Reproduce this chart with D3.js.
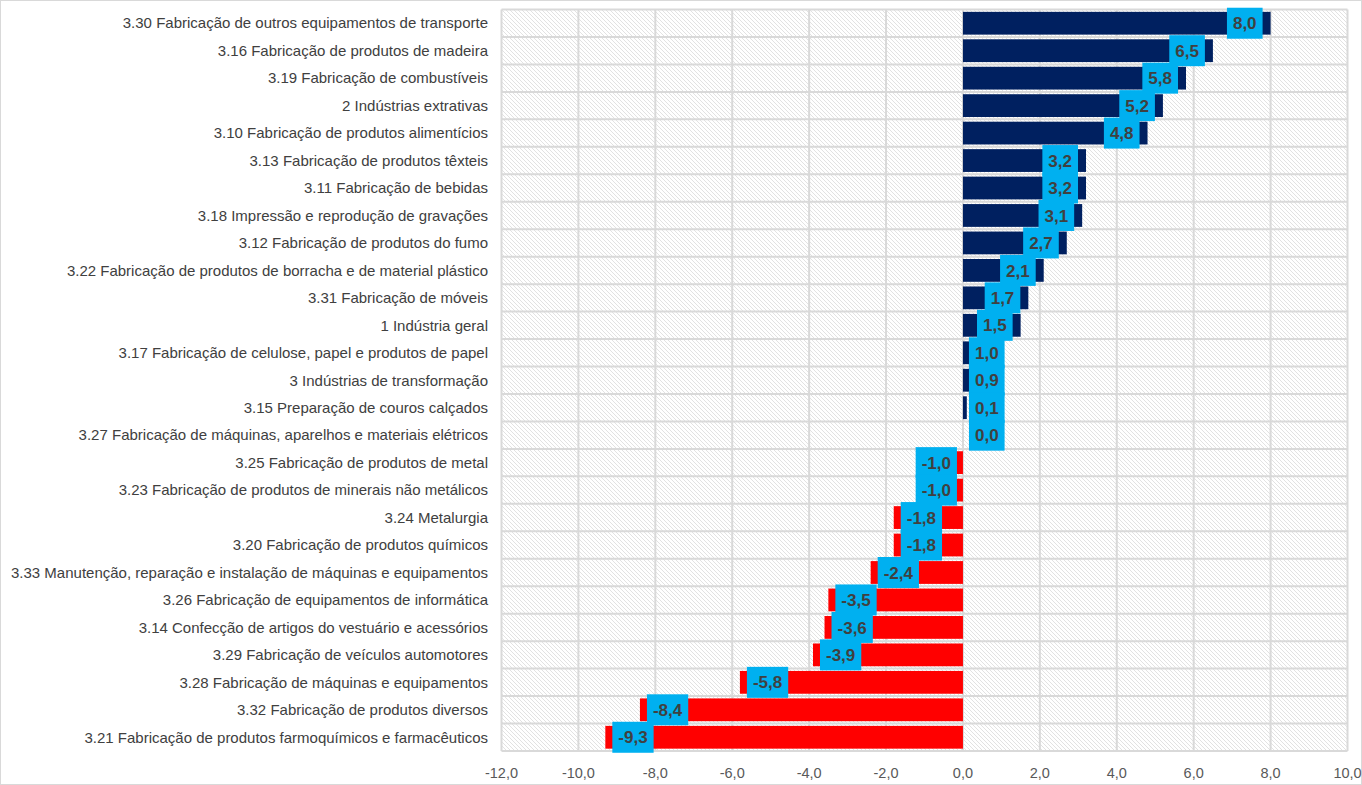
<!DOCTYPE html>
<html><head><meta charset="utf-8">
<script src="https://cdn.jsdelivr.net/npm/d3@7/dist/d3.min.js"></script>
<style>body{margin:0;background:#fff;} svg{display:block;}</style>
</head><body>
<svg id="c" width="1362" height="785"></svg>
<script>
const categories = [
"3.30 Fabricação de outros equipamentos de transporte",
"3.16 Fabricação de produtos de madeira",
"3.19 Fabricação de combustíveis",
"2 Indústrias extrativas",
"3.10 Fabricação de produtos alimentícios",
"3.13 Fabricação de produtos têxteis",
"3.11 Fabricação de bebidas",
"3.18 Impressão e reprodução de gravações",
"3.12 Fabricação de produtos do fumo",
"3.22 Fabricação de produtos de borracha e de material plástico",
"3.31 Fabricação de móveis",
"1 Indústria geral",
"3.17 Fabricação de celulose, papel e produtos de papel",
"3 Indústrias de transformação",
"3.15 Preparação de couros calçados",
"3.27 Fabricação de máquinas, aparelhos e materiais elétricos",
"3.25 Fabricação de produtos de metal",
"3.23 Fabricação de produtos de minerais não metálicos",
"3.24 Metalurgia",
"3.20 Fabricação de produtos químicos",
"3.33 Manutenção, reparação e instalação de máquinas e equipamentos",
"3.26 Fabricação de equipamentos de informática",
"3.14 Confecção de artigos do vestuário e acessórios",
"3.29 Fabricação de veículos automotores",
"3.28 Fabricação de máquinas e equipamentos",
"3.32 Fabricação de produtos diversos",
"3.21 Fabricação de produtos farmoquímicos e farmacêuticos"
];
const values = [8.0,6.5,5.8,5.2,4.8,3.2,3.2,3.1,2.7,2.1,1.7,1.5,1.0,0.9,0.1,0.0,-1.0,-1.0,-1.8,-1.8,-2.4,-3.5,-3.6,-3.9,-5.8,-8.4,-9.3];
const xTicks = [-12,-10,-8,-6,-4,-2,0,2,4,6,8,10];

const svg = d3.select("#c");
const W = 1362, H = 785;
const L = 501.5, R = 1347.5, T = 9.5, B = 751;
const x = d3.scaleLinear().domain([-12,10]).range([L,R]);
const y = d3.scaleBand().domain(categories).range([T,B]).paddingInner(0.17).paddingOuter(0.085);
const fmt = v => v.toFixed(1).replace(".", ",");
const FONT = "Liberation Sans, Arial, sans-serif";

// outer border
svg.append("rect").attr("x",0.5).attr("y",0.5).attr("width",W-1).attr("height",H-1)
  .attr("fill","none").attr("stroke","#d9d9d9");

// hatch pattern
const defs = svg.append("defs");
const pat = defs.append("pattern").attr("id","hatch").attr("patternUnits","userSpaceOnUse")
  .attr("width",4).attr("height",4);
pat.append("rect").attr("width",4).attr("height",4).attr("fill","#ffffff");
pat.append("path").attr("d","M-1,-1 L5,5 M-1,3 L1,5 M3,-1 L5,1").attr("stroke","#dadada").attr("stroke-width",0.8);
svg.append("rect").attr("x",L).attr("y",T).attr("width",R-L).attr("height",B-T).attr("fill","url(#hatch)");

// gridlines
const g = svg.append("g");
g.selectAll("line.v").data(xTicks).join("line")
  .attr("x1",d=>x(d)).attr("x2",d=>x(d)).attr("y1",T).attr("y2",B)
  .attr("stroke","#d9d9d9").attr("stroke-width",2);
const bounds = d3.range(categories.length+1).map(i => T + i*(B-T)/categories.length);
g.selectAll("line.h").data(bounds).join("line")
  .attr("x1",L).attr("x2",R).attr("y1",d=>d).attr("y2",d=>d)
  .attr("stroke","#d9d9d9").attr("stroke-width",2);

// bars
const data = categories.map((c,i)=>({c, v: values[i]}));
svg.append("g").selectAll("rect").data(data).join("rect")
  .attr("x", d => x(Math.min(0,d.v)))
  .attr("width", d => Math.abs(x(d.v)-x(0)))
  .attr("y", d => y(d.c))
  .attr("height", y.bandwidth())
  .attr("fill", d => d.v >= 0 ? "#002060" : "#ff0000");

// category labels
svg.append("g").selectAll("text").data(categories).join("text")
  .attr("x", 488).attr("y", d => y(d)+y.bandwidth()/2)
  .attr("dy","0.35em").attr("text-anchor","end")
  .attr("font-family",FONT).attr("font-size",15)
  .attr("fill","#404040").text(d=>d);

// x axis labels
svg.append("g").selectAll("text").data(xTicks).join("text")
  .attr("x", d=>x(d)).attr("y", 778).attr("text-anchor","middle")
  .attr("font-family",FONT).attr("font-size",14.5)
  .attr("fill","#595959").text(d=>fmt(d));

// data labels
const lg = svg.append("g");
data.forEach(d => {
  const cy = y(d.c)+y.bandwidth()/2;
  const t = lg.append("text").attr("font-family",FONT)
    .attr("font-weight","bold").attr("font-size",17).attr("fill","#404040")
    .attr("dy","0.36em").text(fmt(d.v));
  const tw = t.node().getComputedTextLength();
  const w = tw + 12, h = 31;
  let left;
  if (d.v >= 0) {
    const right = Math.max(x(d.v) - 8, x(0) + 6 + w);
    left = right - w;
  } else {
    left = Math.min(x(d.v) + 7, x(0) - 6 - w);
  }
  lg.insert("rect", () => t.node()).attr("x",left).attr("y",cy-h/2).attr("width",w).attr("height",h)
    .attr("fill","#00b0f0");
  t.attr("x", left + w/2).attr("y", cy).attr("text-anchor","middle");
});
</script>
</body></html>
